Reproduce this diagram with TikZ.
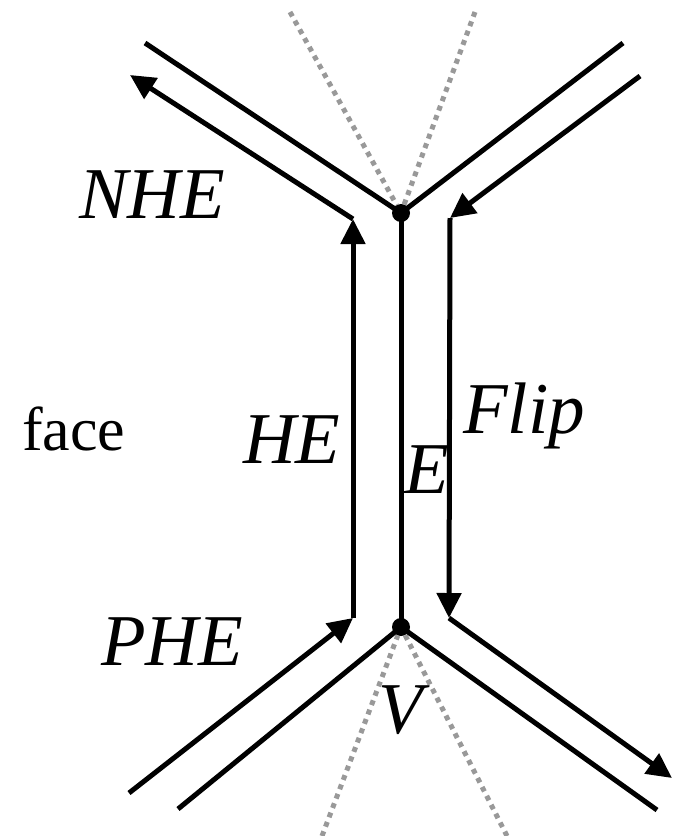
\documentclass[tikz,border=0pt]{standalone}
\usepackage{fontspec}
\setmainfont{Liberation Serif}
\usetikzlibrary{arrows.meta}
\definecolor{Guide}{HTML}{999999}
\tikzset{
  edge/.style={line width=5pt,draw=black},
  half/.style={line width=5pt,draw=black,-{Triangle[length=25pt,width=24pt]}},
  guide/.style={draw=Guide,line width=5pt,dash pattern=on 5pt off 5pt},
  vtx/.style={circle,fill=black,inner sep=0pt,minimum size=18pt},
  lbl/.style={font=\fontsize{73}{80}\selectfont\itshape,inner sep=0pt,anchor=base west},
  facelbl/.style={font=\fontsize{62}{70}\selectfont,inner sep=0pt,anchor=base west}
}

\begin{document}
\begin{tikzpicture}[x=1pt,y=-1pt]
    \useasboundingbox (0,0) rectangle (679,836);
    % vertices of the edge
    \node[vtx] (tv) at (401,213) {};
    \node[vtx] (bv) at (401,627) {};

    % dotted guides through the vertices
    \coordinate (gtl) at (290,12); \coordinate (gtr) at (475,12);
    \coordinate (gbl) at (322,836); \coordinate (gbr) at (507,836);
    \draw[guide] (gtl)--(tv); \draw[guide] (gtr)--(tv);
    \draw[guide] (gbl)--(bv); \draw[guide] (gbr)--(bv);

    % edges
    \coordinate (tl) at (145,43); \coordinate (tr) at (623,43);
    \coordinate (bl) at (178,809); \coordinate (br) at (657,810);
    \draw[edge] (tl)--(tv.center)--(tr);
    \draw[edge] (bl)--(bv.center)--(br);
    \draw[edge] (tv.center)--(bv.center);

    % half-edges
    \coordinate (he0) at (353,618); \coordinate (he1) at (353,219);
    \coordinate (nhe) at (130,75); \coordinate (phe) at (129,793);
    \draw[half] (phe)--(he0); \draw[half] (he0)--(he1); \draw[half] (he1)--(nhe);

    % flip half-edges
    \coordinate (f0) at (640,76); \coordinate (f1) at (450,218);
    \coordinate (f2) at (449,618); \coordinate (f3) at (672,778);
    \draw[half] (f0)--(f1); \draw[half] (f1)--(f2); \draw[half] (f2)--(f3);

    % labels
    \node[lbl] (nhelbl) at (79,218) {NHE};
    \node[facelbl] (facelbl) at (22,450) {face};
    \node[lbl] (helbl) at (243,463) {HE};
    \node[lbl] (elbl) at (404,493) {E};
    \node[lbl] (fliplbl) at (463,433) {Flip};
    \node[lbl] (phelbl) at (101,665) {PHE};
    \node[lbl] (vlbl) at (378,733) {V};
  \end{tikzpicture}
\end{document}
